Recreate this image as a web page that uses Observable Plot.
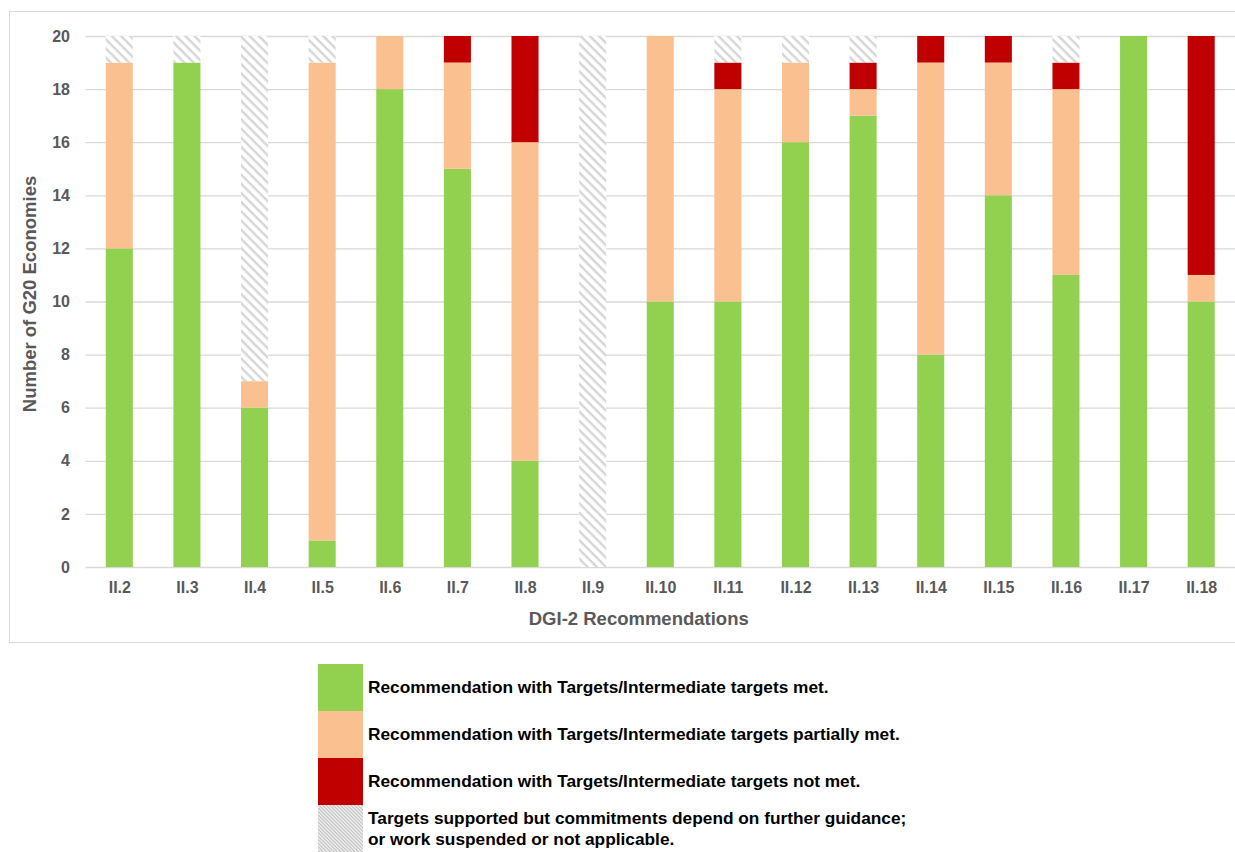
<!DOCTYPE html>
<html><head><meta charset="utf-8">
<script src="https://cdn.jsdelivr.net/npm/d3@7"></script>
<script src="https://cdn.jsdelivr.net/npm/@observablehq/plot@0.6"></script>
<style>
body{margin:0;background:#fff;font-family:"Liberation Sans",Arial,sans-serif;}
#wrap{position:relative;width:1235px;height:852px;overflow:hidden;}
#frame{position:absolute;left:9px;top:11px;width:1240px;height:632px;border:1px solid #d9d9d9;box-sizing:border-box;}
#chart{position:absolute;left:0;top:0;}
#legend{position:absolute;left:318px;top:664px;}
.row{display:flex;align-items:center;height:47px;}
.sw{width:45px;height:47px;flex:none;display:block;}
.lab{margin-left:5px;font-weight:bold;font-size:17.3px;color:#000;line-height:21px;white-space:nowrap;}
</style></head><body>
<div id="wrap"><div id="frame"></div><div id="chart"></div><div id="legend"></div></div>
<script>
const categories = ["II.2","II.3","II.4","II.5","II.6","II.7","II.8","II.9","II.10","II.11","II.12","II.13","II.14","II.15","II.16","II.17","II.18"];
const met      = [12,19, 6, 1,18,15, 4, 0,10,10,16,17, 8,14,11,20,10];
const partial  = [ 7, 0, 1,18, 2, 4,12, 0,10, 8, 3, 1,11, 5, 7, 0, 1];
const notMet   = [ 0, 0, 0, 0, 0, 1, 4, 0, 0, 1, 0, 1, 1, 1, 1, 0, 9];
const notAppl  = [ 1, 1,13, 1, 0, 0, 0,20, 0, 1, 1, 1, 0, 0, 1, 0, 0];
const statuses = [
  "Recommendation with Targets/Intermediate targets met.",
  "Recommendation with Targets/Intermediate targets partially met.",
  "Recommendation with Targets/Intermediate targets not met.",
  "Targets supported but commitments depend on further guidance; or work suspended or not applicable."
];
const colors = ["#92D050","#FAC090","#C00000","url(#hatch)"];
const yTicks = [0,2,4,6,8,10,12,14,16,18,20];
const xTitle = "DGI-2 Recommendations";
const yTitle = "Number of G20 Economies";

const series = [met, partial, notMet, notAppl];
const data = categories.flatMap((c,i)=>statuses.map((s,j)=>({cat:c,status:s,value:series[j][i]})));

const svg = Plot.plot({
  width:1235, height:650, marginLeft:85.5, marginRight:0, marginTop:36, marginBottom:83,
  style:{fontFamily:"'Liberation Sans', Arial, sans-serif", fontWeight:"bold", fontSize:"16px", color:"#595959", background:"transparent", overflow:"visible"},
  x:{domain:categories, paddingInner:0.6, paddingOuter:0.3, round:false, label:null},
  y:{domain:[0,20], label:null},
  color:{domain:statuses, range:colors},
  marks:[
    Plot.gridY(yTicks,{stroke:"#d9d9d9", strokeOpacity:1, strokeWidth:1.3}),
    Plot.barY(data, Plot.stackY({x:"cat", y:"value", fill:"status", order:statuses})),
    Plot.axisY(yTicks,{tickSize:0, tickPadding:16, label:null, fontSize:16}),
    Plot.axisX({tickSize:0, tickPadding:14, label:null, fontSize:16}),
    Plot.text([xTitle],{text:d=>d, frameAnchor:"bottom", lineAnchor:"middle", textAnchor:"middle", dy:52, dx:-22, fontSize:18.5, fontWeight:"bold", fill:"#595959"}),
    Plot.text([yTitle],{text:d=>d, frameAnchor:"left", textAnchor:"middle", lineAnchor:"middle", dx:-56, dy:-8, rotate:-90, fontSize:18.5, fontWeight:"bold", fill:"#595959"})
  ]
});
const ns = "http://www.w3.org/2000/svg";
const defs = document.createElementNS(ns,"defs");
defs.innerHTML = `<pattern id="hatch" patternUnits="userSpaceOnUse" width="6.5" height="6.5" patternTransform="rotate(-45)">
  <rect width="6.5" height="6.5" fill="#fff"/><line x1="1.6" y1="0" x2="1.6" y2="6.5" stroke="#d6d6d6" stroke-width="2.4"/></pattern>
  <pattern id="hatchFine" patternUnits="userSpaceOnUse" width="2.5" height="2.5" patternTransform="rotate(-45)">
  <rect width="2.5" height="2.5" fill="#f2f2f2"/><line x1="0.6" y1="0" x2="0.6" y2="2.5" stroke="#b8b8b8" stroke-width="1"/></pattern>`;
svg.insertBefore(defs, svg.firstChild);
document.getElementById("chart").appendChild(svg);

const legend = document.getElementById("legend");
const legendFills = ["#92D050","#FAC090","#C00000","url(#hatchFine)"];
const legendLabels = [statuses[0], statuses[1], statuses[2], "Targets supported but commitments depend on further guidance;<br>or work suspended or not applicable."];
statuses.forEach((s,i)=>{
  const row = document.createElement("div"); row.className="row";
  row.innerHTML = `<svg class="sw" width="45" height="47"><rect width="45" height="47" fill="${legendFills[i]}"/></svg><div class="lab">${legendLabels[i]}</div>`;
  legend.appendChild(row);
});
</script></body></html>
